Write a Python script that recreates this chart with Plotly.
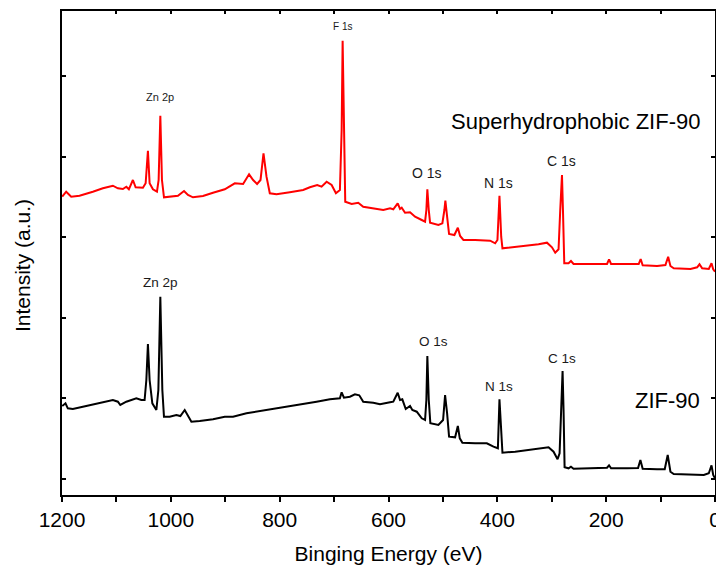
import plotly.graph_objects as go

# Superhydrophobic ZIF-90 (red) survey spectrum: binding energy (eV) and intensity (a.u.)
red_ev = [1199.6, 1192.3, 1183.1, 1167.8, 1143.3, 1124.9, 1106.5, 1097.3, 1088.1, 1081.8,
          1077.1, 1069.7, 1064.7, 1051.3, 1046.3, 1042.1, 1039.0, 1032.9, 1025.5, 1022.4,
          1019.3, 1016.3, 1012.6, 1002.2, 986.9, 975.8, 968.5, 959.3, 940.9, 922.5,
          900.9, 882.5, 867.2, 856.2, 848.8, 841.5, 835.2, 829.7, 824.2, 818.1,
          805.8, 781.3, 756.8, 744.5, 731.0, 723.0, 713.7, 704.5, 696.6, 689.3,
          686.1, 684.3, 681.9, 679.5, 667.7, 655.6, 646.4, 628.0, 609.6, 597.2,
          591.2, 583.1, 578.8, 575.7, 569.6, 560.4, 551.2, 538.9, 532.8, 530.4,
          528.6, 526.0, 523.6, 508.3, 501.0, 497.3, 495.5, 492.3, 488.7, 478.9,
          472.6, 468.4, 462.3, 440.8, 413.2, 404.0, 399.8, 396.1, 392.9, 390.6,
          373.3, 348.8, 324.3, 308.8, 299.6, 293.6, 287.5, 284.4, 281.2, 279.4,
          277.0, 269.1, 264.7, 259.9, 229.1, 198.4, 194.7, 191.0, 161.6, 140.2,
          136.6, 132.9, 106.4, 91.1, 86.1, 81.9, 75.8, 45.1, 32.8, 28.5,
          23.6, 11.4, 6.4, 3.3, 0.0]
red_int = [298.3, 303.3, 298.3, 299.3, 303.3, 306.7, 309.3, 306.7, 306.0, 308.3,
           305.7, 315.0, 307.7, 307.3, 311.7, 344.3, 311.7, 305.7, 303.3, 315.0,
           379.3, 315.0, 297.7, 298.3, 299.3, 304.0, 300.0, 297.7, 299.0, 302.3,
           305.7, 311.7, 311.0, 320.7, 315.0, 311.0, 315.0, 341.7, 318.3, 301.7,
           300.7, 302.7, 305.0, 307.7, 310.0, 308.3, 313.3, 310.0, 301.7, 305.0,
           365.0, 454.3, 365.0, 293.3, 291.0, 292.3, 288.3, 286.7, 285.0, 286.7,
           285.7, 291.7, 286.0, 287.3, 282.3, 282.7, 278.3, 275.0, 273.3, 285.0,
           305.7, 285.0, 272.3, 270.0, 271.7, 285.0, 294.3, 278.3, 261.0, 260.0,
           267.3, 259.0, 255.0, 255.0, 254.3, 251.7, 255.0, 299.3, 258.3, 246.7,
           247.7, 249.0, 250.7, 252.3, 247.7, 242.3, 245.7, 285.0, 320.0, 285.0,
           231.7, 231.7, 234.0, 231.0, 231.0, 231.0, 235.7, 231.0, 231.0, 231.0,
           236.0, 229.7, 229.0, 230.0, 238.3, 229.0, 226.7, 226.0, 227.7, 230.7,
           226.7, 226.0, 231.7, 225.7, 223.3]

# ZIF-90 (black) survey spectrum
black_ev = [1199.6, 1193.6, 1189.3, 1180.1, 1155.5, 1131.0, 1106.5, 1097.3, 1092.9, 1081.8,
            1063.4, 1054.2, 1048.2, 1045.0, 1042.1, 1039.0, 1034.0, 1026.6, 1022.9, 1019.3,
            1015.6, 1012.6, 1002.2, 989.8, 982.5, 974.5, 968.5, 962.2, 946.9, 922.5,
            900.9, 885.7, 861.0, 830.4, 799.7, 762.9, 732.2, 707.7, 689.3, 686.1,
            681.9, 670.9, 661.7, 653.7, 646.4, 628.0, 615.6, 597.2, 591.2, 583.1,
            578.8, 574.6, 568.3, 560.4, 556.2, 548.1, 538.9, 532.8, 530.4, 528.6,
            526.0, 523.1, 508.3, 499.7, 496.0, 492.3, 488.7, 477.6, 472.6, 469.0,
            464.2, 440.8, 419.3, 407.1, 399.0, 396.1, 392.9, 390.6, 367.2, 330.4,
            305.9, 296.7, 289.3, 285.6, 282.5, 280.1, 278.3, 276.4, 269.1, 264.7,
            259.9, 229.1, 198.4, 194.7, 191.0, 161.6, 141.4, 137.1, 132.9, 106.4,
            92.4, 86.9, 81.9, 75.8, 45.1, 20.6, 11.4, 6.4, 3.3, 0.0]
black_int = [89.0, 91.7, 86.7, 86.0, 89.0, 91.7, 95.0, 93.3, 90.0, 93.3,
             96.7, 95.0, 95.0, 115.0, 151.0, 115.0, 91.7, 85.0, 105.0, 198.3,
             105.0, 78.3, 78.3, 80.0, 79.0, 85.0, 79.0, 73.3, 74.0, 75.7,
             78.3, 78.3, 81.7, 84.3, 87.3, 90.7, 93.3, 95.7, 96.7, 102.7,
             97.3, 98.3, 100.7, 99.7, 93.3, 92.3, 90.7, 92.7, 93.3, 102.3,
             95.0, 95.7, 86.0, 89.0, 85.0, 83.3, 76.7, 75.0, 95.0, 139.0,
             95.0, 71.7, 70.0, 75.0, 100.0, 81.7, 58.3, 57.7, 69.0, 56.7,
             52.3, 51.7, 51.7, 48.3, 46.7, 95.7, 55.0, 42.3, 43.3, 45.7,
             47.7, 43.3, 35.7, 41.7, 85.0, 124.0, 85.0, 27.7, 26.7, 28.3,
             26.3, 26.7, 27.3, 29.7, 26.7, 26.7, 27.0, 35.0, 26.3, 25.7,
             25.7, 40.0, 23.3, 21.0, 20.7, 20.0, 21.7, 29.7, 20.0, 16.7]

# X tick marks every 100 eV, labels every 200 eV
x_tick_vals = [1200, 1100, 1000, 900, 800, 700, 600, 500, 400, 300, 200, 100, 0]
x_tick_text = ["1200", "", "1000", "", "800", "", "600", "", "400", "", "200", "", "0"]

# Peak labels: text, energy, intensity, font size
label_text = ["F 1s", "Zn 2p", "O 1s", "N 1s", "C 1s", "Zn 2p", "O 1s", "N 1s", "C 1s"]
label_ev = [684, 1019, 529, 397, 282.5, 1019, 518, 397, 280.7]
label_int = [469, 398, 322, 312, 334, 213, 154, 109, 137]
label_size = [10, 11, 14, 14, 14, 13.5, 13.5, 13.5, 13.5]

sample_names = ["Superhydrophobic ZIF-90", "ZIF-90"]
sample_ev = [23, 23]
sample_int = [374, 95]

FONT = "Liberation Sans, Arial, sans-serif"

fig = go.Figure()
fig.add_trace(go.Scatter(x=red_ev, y=red_int, mode="lines",
                         line=dict(color="#ff0000", width=2), showlegend=False))
fig.add_trace(go.Scatter(x=black_ev, y=black_int, mode="lines",
                         line=dict(color="#000000", width=2), showlegend=False))
# helper trace so that the top axis (inside ticks) is drawn
fig.add_trace(go.Scatter(x=[1200, 0], y=[0, 0], mode="markers", xaxis="x2",
                         marker=dict(opacity=0), hoverinfo="skip", showlegend=False))

annotations = []
for t, xv, yv, s in zip(label_text, label_ev, label_int, label_size):
    annotations.append(dict(x=xv, y=yv, xref="x", yref="y", text=t, showarrow=False,
                            font=dict(family=FONT, size=s, color="#1a1a1a"),
                            xanchor="center", yanchor="middle"))
for t, xv, yv in zip(sample_names, sample_ev, sample_int):
    annotations.append(dict(x=xv, y=yv, xref="x", yref="y", text=t, showarrow=False,
                            font=dict(family=FONT, size=22, color="#000000"),
                            xanchor="right", yanchor="middle"))
# y-axis title (placed slightly below the axis centre, as in the original)
annotations.append(dict(x=-0.0613, y=0.475, xref="paper", yref="paper",
                        text="Intensity (a.u.)", textangle=-90, showarrow=False,
                        font=dict(family=FONT, size=21, color="#000000"),
                        xanchor="center", yanchor="middle"))

fig.update_layout(
    width=716, height=557,
    margin=dict(l=54, r=9, t=3, b=70, autoexpand=False),
    paper_bgcolor="white", plot_bgcolor="white",
    font=dict(family=FONT, color="#000000"),
    annotations=annotations,
    xaxis=dict(range=[1200, 0], tickmode="array", tickvals=x_tick_vals, ticktext=x_tick_text,
               ticks="outside", ticklen=5, tickwidth=2, tickcolor="#000",
               showline=True, linecolor="#000", linewidth=2, mirror=True,
               showgrid=False, zeroline=False, automargin=False,
               ticklabeloverflow="allow",
               tickfont=dict(size=21, family=FONT, color="#000"),
               title=dict(text="Binging Energy (eV)", font=dict(size=21, family=FONT, color="#000"),
                          standoff=16)),
    xaxis2=dict(range=[1200, 0], overlaying="x", side="top", tickmode="array",
                tickvals=x_tick_vals, showticklabels=False, ticks="inside", ticklen=3,
                tickwidth=2, tickcolor="#000", showline=False, showgrid=False, zeroline=False,
                automargin=False),
    yaxis=dict(range=[0, 484], tick0=16, dtick=80.6, showticklabels=False,
               ticks="inside", ticklen=4, tickwidth=2, tickcolor="#000",
               showline=True, linecolor="#000", linewidth=2, mirror="ticks",
               showgrid=False, zeroline=False, automargin=False),
)

fig.write_html("out.html")
